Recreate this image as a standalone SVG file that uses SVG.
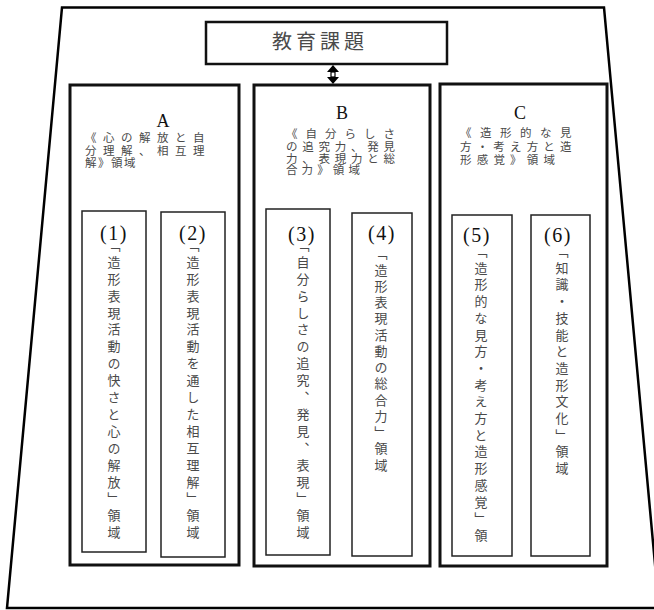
<svg xmlns="http://www.w3.org/2000/svg" width="654" height="610" viewBox="0 0 654 610">
<style>
.outer{fill:none;stroke:#000;stroke-width:2.5}
.box{fill:#fff;stroke:#111;stroke-width:3}
.inner{fill:#fff;stroke:#222;stroke-width:1.5}
.jp{font-family:"Noto Sans CJK JP","Noto Sans CJK SC",sans-serif;fill:#4a4a4a}
.hd{font-size:11.5px}
.lat{font-family:"Liberation Serif",serif;fill:#111}
.vt{font-family:"Noto Sans CJK JP","Noto Sans CJK SC",sans-serif;fill:#4a4a4a;font-size:13px;writing-mode:vertical-rl;letter-spacing:3.9px}
.num{font-family:"Liberation Serif",serif;fill:#111;font-size:20px;letter-spacing:1.5px;text-anchor:middle}
</style>
<rect width="654" height="610" fill="#fff"/>
<g id="frame">
<polygon class="outer" points="62,7.5 604,7.5 659,608 7,608"/>
</g>
<g id="title">
<rect x="206" y="22" width="241" height="42" fill="#fff" stroke="#111" stroke-width="2.5"/>
<text class="jp" x="320" y="49" font-size="20" letter-spacing="4" text-anchor="middle">教育課題</text>
</g>
<g id="connectors">
<polygon points="333,65 327,72 339,72" fill="#000"/>
<rect x="331" y="72" width="4" height="5" fill="#fff" stroke="#000" stroke-width="1.2"/>
<polygon points="327,77 339,77 333,84" fill="#000"/>
</g>
<g id="groupA">
<rect class="box" x="70" y="85" width="169" height="480"/>
<text class="lat" x="163" y="127" font-size="18" text-anchor="middle">A</text>
<text class="jp hd" x="85 103 121 139 157 175 193" y="142">《心の解放と自</text>
<text class="jp hd" x="85 103 121 139 157 175 193" y="155">分理解、相互理</text>
<text class="jp hd" x="85 98 111 124" y="167">解》領域</text>
</g>
<g id="groupB">
<rect class="box" x="254" y="85" width="176" height="481"/>
<text class="lat" x="342" y="119" font-size="18" text-anchor="middle">B</text>
<text class="jp hd" x="286 305.5 325 344.5 364 383.5" y="138">《自分らしさ</text>
<text class="jp hd" x="286 302.25 318.5 334.75 351 367.25 383.5" y="151">の追究力、発見</text>
<text class="jp hd" x="286 302.25 318.5 334.75 351 367.25 383.5" y="163">力、表現力と総</text>
<text class="jp hd" x="286 301.6 317.2 332.8 348.4" y="174">合力》領域</text>
</g>
<g id="groupC">
<rect class="box" x="440" y="84" width="167" height="482"/>
<text class="lat" x="520" y="119" font-size="18" text-anchor="middle">C</text>
<text class="jp hd" x="460 480 500 520 540 560" y="137">《造形的な見</text>
<text class="jp hd" x="460 476.7 493.3 510 526.7 543.3 560" y="151">方・考え方と造</text>
<text class="jp hd" x="460 476.7 493.4 510.1 526.8 543.5" y="164">形感覚》領域</text>
</g>
<g id="node1">
<rect class="inner" x="82" y="211" width="64" height="341"/>
<text class="num" x="114" y="240">(1)</text>
<text class="vt" x="114" y="238.5">「造形表現活動の快さと心の解放」領域</text>
</g>
<g id="node2">
<rect class="inner" x="161" y="212" width="64" height="345"/>
<text class="num" x="193" y="240">(2)</text>
<text class="vt" x="193" y="238.5">「造形表現活動を通した相互理解」領域</text>
</g>
<g id="node3">
<rect class="inner" x="266" y="209" width="64" height="346"/>
<text class="num" x="302" y="241">(3)</text>
<text class="vt" x="303" y="238.5">「自分らしさの追究、発見、表現」領域</text>
</g>
<g id="node4">
<rect class="inner" x="352" y="213" width="60" height="343"/>
<text class="num" x="382" y="240">(4)</text>
<text class="vt" x="381" y="247" style="letter-spacing:3.25px">「造形表現活動の総合力」領域</text>
</g>
<g id="node5">
<rect class="inner" x="452" y="215" width="60" height="341"/>
<text class="num" x="477" y="242">(5)</text>
<text class="vt" x="481" y="244.6" style="letter-spacing:3.7px">「造形的な見方・考え方と造形感覚」領</text>
</g>
<g id="node6">
<rect class="inner" x="531" y="215" width="59" height="341"/>
<text class="num" x="558" y="242">(6)</text>
<text class="vt" x="562" y="244.6" style="letter-spacing:3.7px">「知識・技能と造形文化」領域</text>
</g>
</svg>
